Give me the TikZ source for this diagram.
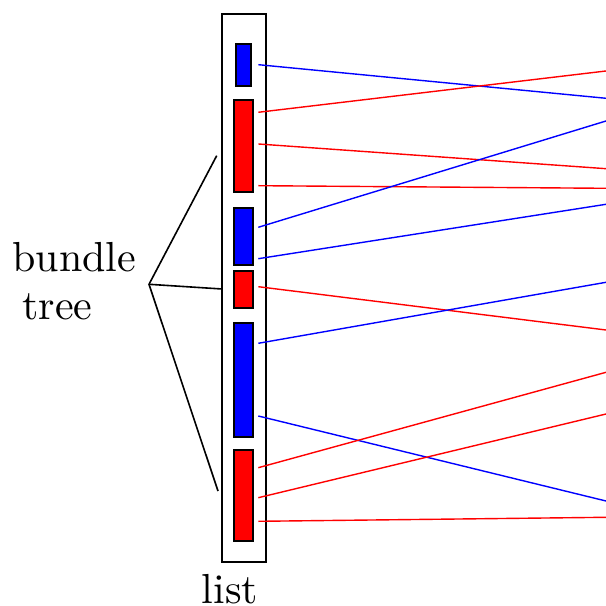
\documentclass[tikz,border=0pt]{standalone}
\begin{document}
\begin{tikzpicture}[x=0.25pt,y=-0.25pt,
  box/.style={draw=black,line width=0.45pt},
  bbox/.style={box,fill=blue},
  rbox/.style={box,fill=red},
  bl/.style={blue,line width=0.35pt},
  rl/.style={red,line width=0.35pt},
  tl/.style={black,line width=0.4pt},
  lbl/.style={inner sep=0pt,anchor=base west,font=\fontsize{10.5}{12}\selectfont}]
\useasboundingbox (0,0) rectangle (606,606);
% list container
\draw[black,line width=0.5pt] (222,14) rectangle (266,562);
\node[coordinate] (listL) at (222,289) {};
% items
\draw[bbox] (236,43.7) rectangle (251,85.7);
\draw[rbox] (234.3,100) rectangle (252.7,191.7);
\draw[bbox] (234.3,207.7) rectangle (252.7,265);
\draw[rbox] (234.3,270.7) rectangle (252.7,308.3);
\draw[bbox] (234.3,323) rectangle (252.7,436.7);
\draw[rbox] (234.3,450) rectangle (252.7,541);
% left endpoints
\coordinate (s1) at (258.3,64.7);
\coordinate (s2) at (258.3,112.3);
\coordinate (s3) at (258.3,144);
\coordinate (s4) at (258.3,185.7);
\coordinate (s5) at (258.3,227.3);
\coordinate (s6) at (258.3,258.7);
\coordinate (s7) at (258.3,286.7);
\coordinate (s8) at (258.3,343.3);
\coordinate (s9) at (258.3,416);
\coordinate (s10) at (258.3,467.7);
\coordinate (s11) at (258.3,497.7);
\coordinate (s12) at (258.3,521.3);
% right endpoints
\coordinate (e1) at (606,98.3);
\coordinate (e2) at (606,71);
\coordinate (e3) at (606,168.7);
\coordinate (e4) at (606,188.3);
\coordinate (e5) at (606,121);
\coordinate (e6) at (606,204.3);
\coordinate (e7) at (606,330);
\coordinate (e8) at (606,282.3);
\coordinate (e9) at (606,501);
\coordinate (e10) at (606,372.3);
\coordinate (e11) at (606,414);
\coordinate (e12) at (606,517.3);
\draw[bl] (s1) -- (e1);
\draw[rl] (s2) -- (e2);
\draw[rl] (s3) -- (e3);
\draw[rl] (s4) -- (e4);
\draw[bl] (s5) -- (e5);
\draw[bl] (s6) -- (e6);
\draw[rl] (s7) -- (e7);
\draw[bl] (s8) -- (e8);
\draw[bl] (s9) -- (e9);
\draw[rl] (s10) -- (e10);
\draw[rl] (s11) -- (e11);
\draw[rl] (s12) -- (e12);
% bundle tree
\coordinate (apex) at (149,284.3);
\coordinate (tu) at (216.7,155.7);
\coordinate (td) at (218,491);
\draw[tl] (tu) -- (apex) -- (td);
\draw[tl] (apex) -- (listL);
\node[lbl] (bundle) at (11.5,271.7) {bundle};
\node[lbl] (tree) at (21.5,320) {tree};
\node[lbl] (list) at (201,603) {list};
\end{tikzpicture}
\end{document}
